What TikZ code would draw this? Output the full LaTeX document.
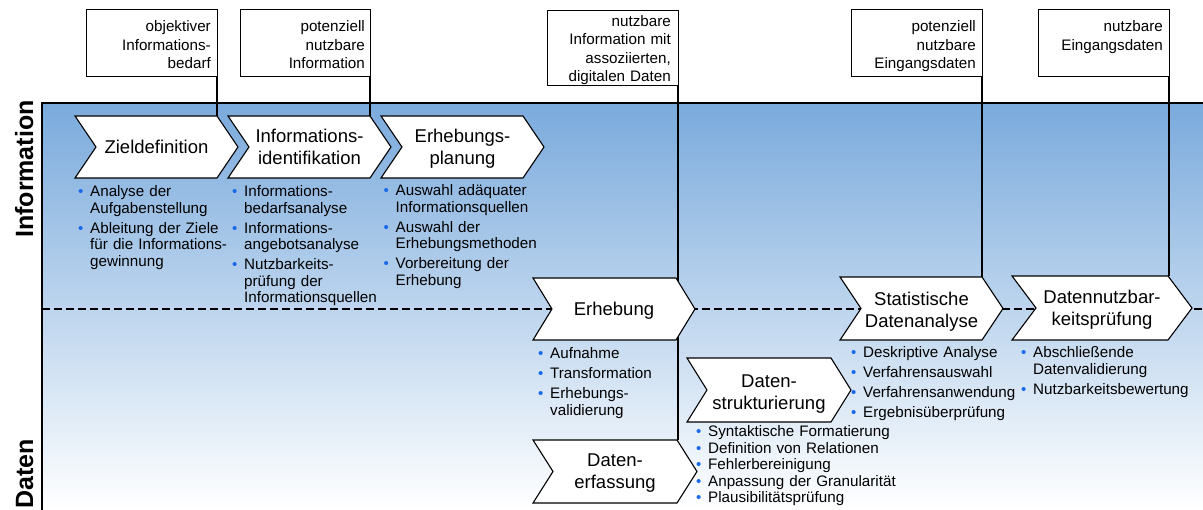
\documentclass[tikz,border=0pt]{standalone}
\usepackage{fontspec}
\setmainfont{Liberation Sans}
\usetikzlibrary{calc}
\pgfdeclarelayer{bg}
\pgfdeclarelayer{mid}
\pgfsetlayers{bg,mid,main}
\definecolor{bandtop}{RGB}{122,170,220}
\definecolor{bul}{RGB}{25,105,235}
\newcommand\bitem[1]{\noindent\hangindent=11.5pt\hangafter=1\makebox[11.5pt][l]{\hspace{-0.5pt}\textcolor{bul}{\fontsize{15}{15}\selectfont •}}#1}
\newcommand\bnext[1]{\par\vspace{3.5pt}\bitem{#1}}
\newcommand\bline[1]{\par\bitem{#1}}
\tikzset{
  chevline/.style={draw=black, line width=1.1pt, fill=white, line join=miter},
  chevtext/.style={inner sep=0pt, text width=175pt, align=center, font=\fontsize{18.5}{22}\selectfont},
  listtext/.style={inner sep=0pt, text width=210pt, align=left, font=\fontsize{15.2}{16.5}\selectfont},
  boxstyle/.style={draw=black, line width=1pt, fill=white, inner sep=0pt, outer sep=0pt, anchor=north west},
  boxtext/.style={inner sep=0pt, text width=125pt, align=right, font=\fontsize{15.2}{18.3}\selectfont},
  conn/.style={draw=black, line width=1.2pt},
  sidelabel/.style={inner sep=0pt, rotate=90, anchor=base west, font=\fontsize{25}{25}\selectfont\bfseries},
}
\newcommand\chev[6]{%
  \node[inner sep=0pt, outer sep=0pt, minimum width={#4pt-#2pt}, minimum height={#5pt-#3pt}, anchor=north west] (#1) at (#2,#3) {};
  \begin{pgfonlayer}{mid}
  \draw[chevline] (#1.north west) -- ([xshift=-#6pt]#1.north east) -- (#1.east) -- ([xshift=-#6pt]#1.south east) -- (#1.south west) -- ([xshift=#6pt]#1.west) -- cycle;
  \end{pgfonlayer}}
\begin{document}
\begin{tikzpicture}[x=1pt, y=-1pt]
\useasboundingbox (0,0) rectangle (1203,510);

% band
\begin{pgfonlayer}{bg}
\shade[top color=bandtop, bottom color=white] (42,103) rectangle (1203,510);
\draw[line width=1.2pt, black, dash pattern=on 8pt off 4pt] (42,309) -- (1203,309);
\draw[line width=1.3pt, black] (42,510) -- (42,103) -- (1203,103);
\end{pgfonlayer}

% side labels
\node[sidelabel] (inf) at (33,238) {Information};
\node[sidelabel] (dat) at (33,509) {Daten};

% chevrons
\chev{zd}{75}{116}{238}{178}{21}
\chev{ii}{228}{116}{391}{178}{21}
\chev{ep}{381}{116}{544}{178}{21}
\chev{eh}{533}{278}{695}{340}{19}
\chev{sd}{840}{277}{1003}{340}{21}
\chev{dn}{1012}{276}{1192}{340}{24}
\chev{ds}{687}{358}{851}{422}{20}
\chev{de}{533}{440}{697}{503}{20}

\node[chevtext, anchor=base] (zd-t) at (156.5,154) {Zieldefinition};
\node[chevtext, anchor=base] (ii-t) at (309.5,143) {Informations-\\identifikation};
\node[chevtext, anchor=base] (ep-t) at (462.5,143) {Erhebungs-\\planung};
\node[chevtext, anchor=base] (eh-t) at (614,316) {Erhebung};
\node[chevtext, anchor=base] (sd-t) at (921.5,306) {Statistische\\Datenanalyse};
\node[chevtext, anchor=base] (dn-t) at (1102,304) {Datennutzbar-\\keitsprüfung};
\node[chevtext, anchor=base] (ds-t) at (769,388) {Daten-\\strukturierung};
\node[chevtext, anchor=base] (de-t) at (615,467) {Daten-\\erfassung};

% boxes
\node[boxstyle, minimum width=131pt, minimum height=67pt] (b1) at (86,10) {};
\node[boxstyle, minimum width=130pt, minimum height=67pt] (b2) at (240,10) {};
\node[boxstyle, minimum width=131pt, minimum height=75pt] (b3) at (547,11) {};
\node[boxstyle, minimum width=131pt, minimum height=67pt] (b4) at (851,10) {};
\node[boxstyle, minimum width=131pt, minimum height=67pt] (b5) at (1038,10) {};

\node[boxtext, anchor=base east] (b1-t) at (211,32) {objektiver\\Informations-\\bedarf};
\node[boxtext, anchor=base east] (b2-t) at (365,32) {potenziell\\nutzbare\\Information};
\node[boxtext, anchor=base east] (b3-t) at (671,26.5) {nutzbare\\Information mit\\assoziierten,\\digitalen Daten};
\node[boxtext, anchor=base east] (b4-t) at (976,32) {potenziell\\nutzbare\\Eingangsdaten};
\node[boxtext, anchor=base east] (b5-t) at (1163,32) {nutzbare\\Eingangsdaten};

% connectors
\begin{pgfonlayer}{bg}
\draw[conn] (b1.south east) -- (b1.south east |- zd.north);
\draw[conn] (b2.south east) -- (b2.south east |- ii.north);
\draw[conn] (b3.south east) -- (b3.south east |- de.north);
\draw[conn] (b4.south east) -- (b4.south east |- sd.north);
\draw[conn] (b5.south east) -- (b5.south east |- dn.north);
\end{pgfonlayer}

% lists
\node[listtext, anchor=base west] (l1) at (78.5,197) {\bitem{Analyse der\newline Aufgabenstellung}\bnext{Ableitung der Ziele\newline für die Informations-\newline gewinnung}\par};
\node[listtext, anchor=base west] (l2) at (232.5,197) {\bitem{Informations-\newline bedarfsanalyse}\bnext{Informations-\newline angebotsanalyse}\bnext{Nutzbarkeits-\newline prüfung der\newline Informationsquellen}\par};
\node[listtext, anchor=base west] (l3) at (384,196) {\bitem{Auswahl adäquater\newline Informationsquellen}\bnext{Auswahl der\newline Erhebungsmethoden}\bnext{Vorbereitung der\newline Erhebung}\par};
\node[listtext, anchor=base west] (l4) at (538.5,359) {\bitem{Aufnahme}\bnext{Transformation}\bnext{Erhebungs-\newline validierung}\par};
\node[listtext, anchor=base west] (l5) at (696.5,437) {\bitem{Syntaktische Formatierung}\bline{Definition von Relationen}\bline{Fehlerbereinigung}\bline{Anpassung der Granularität}\bline{Plausibilitätsprüfung}\par};
\node[listtext, anchor=base west] (l6) at (851.5,358) {\bitem{Deskriptive Analyse}\bnext{Verfahrensauswahl}\bnext{Verfahrensanwendung}\bnext{Ergebnisüberprüfung}\par};
\node[listtext, anchor=base west] (l7) at (1021.5,358) {\bitem{Abschließende\newline Datenvalidierung}\bnext{Nutzbarkeitsbewertung}\par};
\end{tikzpicture}
\end{document}
